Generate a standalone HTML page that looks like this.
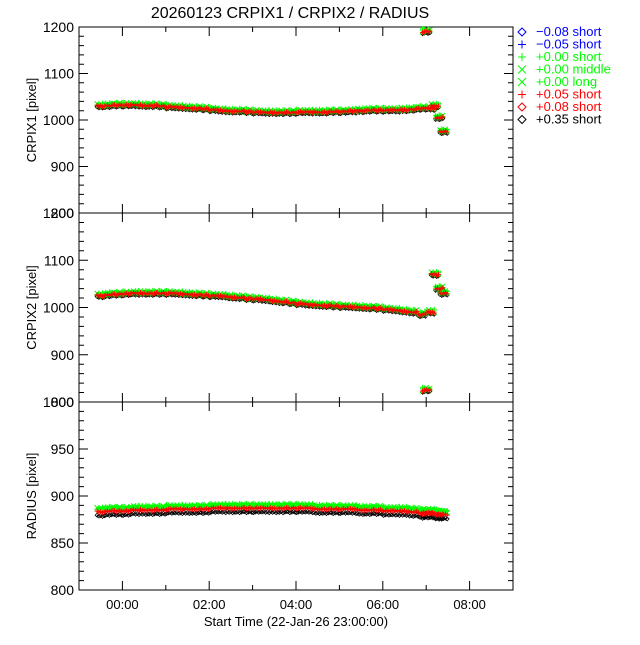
<!DOCTYPE html>
<html><head><meta charset="utf-8"><style>
body{margin:0;background:#fff;width:640px;height:640px;overflow:hidden}
svg text{font-family:"Liberation Sans",sans-serif;fill:#000}
</style></head><body>
<svg id="chart" width="640" height="640" xmlns="http://www.w3.org/2000/svg">
<text x="290" y="18" font-size="16" text-anchor="middle">20260123 CRPIX1 / CRPIX2 / RADIUS</text>
<g id="g"></g>
</svg>
<script>
const times=[-0.5,-0.3,-0.1,0.1,0.3,0.5,0.7,0.9,1.1,1.3,1.5,1.7,1.9,2.1,2.3,2.5,2.7,2.9,3.1,3.3,3.5,3.7,3.9,4.1,4.3,4.5,4.7,4.9,5.1,5.3,5.5,5.7,5.9,6.1,6.3,6.5,6.7,6.9,7.0,7.1,7.2,7.3,7.4];
const crpix1=[1030,1031,1032,1032,1032,1031,1031,1030,1028,1027,1026,1025,1024,1022,1020,1019,1019,1018,1017,1016,1016,1016,1016,1017,1017,1017,1017,1018,1018,1019,1020,1021,1021,1021,1021,1022,1023,1025,1190,1025,1030,1005,975];
const crpix2=[1025,1027,1028,1029,1030,1030,1030,1030,1030,1029,1028,1027,1026,1025,1024,1022,1021,1019,1018,1016,1014,1012,1010,1008,1006,1005,1004,1003,1002,1001,1000,999,998,996,994,992,990,985,825,990,1070,1040,1030];
const radius=[885,886,886,886,887,887,887,887,888,888,888,888,888,889,889,889,889,889,889,889,889,889,889,889,889,888,888,888,888,888,887,887,887,886,886,886,885,884,883,884,883,882,882];
const xTickLabels=["00:00","02:00","04:00","06:00","08:00"];
const xTickHours=[0,2,4,6,8];
const legendLabels=["\u22120.08 short","\u22120.05 short","+0.00 short","+0.00 middle","+0.00 long","+0.05 short","+0.08 short","+0.35 short"];
const legendColors=["#00f","#00f","#0f0","#0f0","#0f0","#f00","#f00","#000"];
const legendSyms=["d","+","+","x","x","+","d","d"];

const NS="http://www.w3.org/2000/svg";
const g=document.getElementById('g');
const L=79,R=513,X0=-1,X1=9;
const xs=h=>L+(h-X0)/(X1-X0)*(R-L);
function el(tag,a,p){const e=document.createElementNS(NS,tag);for(const k in a)e.setAttribute(k,a[k]);(p||g).appendChild(e);return e;}
function symD(type,x,y,s){
  if(type==="+")return `M${x-s} ${y}h${2*s}M${x} ${y-s}v${2*s}`;
  if(type==="x")return `M${x-s} ${y-s}l${2*s} ${2*s}M${x-s} ${y+s}l${2*s} ${-2*s}`;
  return `M${x} ${y-s}l${s} ${s}l${-s} ${s}l${-s} ${-s}z`;
}
function sym(p,type,x,y,c,s){return el('path',{d:symD(type,x,y,s),stroke:c,fill:'none'},p);}
const panels=[
 {name:'crpix1',top:27,bot:213,min:800,max:1200,major:100,minor:20,label:'CRPIX1 [pixel]',data:crpix1,off:[2,0,-1],ticks:[800,900,1000,1100,1200]},
 {name:'crpix2',top:213,bot:402,min:800,max:1200,major:100,minor:20,label:'CRPIX2 [pixel]',data:crpix2,off:[2,0,-1],ticks:[800,900,1000,1100,1200]},
 {name:'radius',top:402,bot:590,min:800,max:1000,major:50,minor:10,label:'RADIUS [pixel]',data:radius,off:[1,-2,-5],ticks:[800,850,900,950,1000]}
];
const jit=[-2,1,-1,2,0];
panels.forEach(P=>{
  const pg=el('g',{});
  
  
  const ys=v=>P.bot-(v-P.min)/(P.max-P.min)*(P.bot-P.top);
  el('rect',{x:L,y:P.top,width:R-L,height:P.bot-P.top,fill:'none',stroke:'#000'},pg);
  for(let v=P.min;v<=P.max;v+=P.minor){
    const y=ys(v),len=(v-P.min)%P.major===0?9:5;
    el('path',{d:`M${L} ${y}h${len}M${R} ${y}h${-len}`,stroke:'#000'},pg);
  }
  P.ticks.forEach(v=>{
    const t=el('text',{x:74,y:ys(v)+5,'font-size':14,'text-anchor':'end'},pg);t.textContent=v;
    
    
  });
  for(let h=X0;h<=X1;h++){
    const x=xs(h),len=h%2===0?9:5;
    el('path',{d:`M${x} ${P.bot}v${-len}M${x} ${P.top}v${len}`,stroke:'#000'},pg);
  }
  const yl=el('text',{x:0,y:0,'font-size':13,'text-anchor':'middle',transform:`translate(36 ${(P.top+P.bot)/2}) rotate(-90)`},pg);
  yl.textContent=P.label;
  
  
  const sg=el('g',{},pg);
  
  
  let dg='',dr='',dk='';
  times.forEach((h,i)=>{
    const x=xs(h),v=P.data[i];
    for(let k=0;k<5;k++){
      const xx=x-3.6+k*1.8,j=jit[(i+k)%5];
      dg+=symD('x',xx,ys(v+P.off[0])+j*0.7,2.5)+symD('+',xx,ys(v+P.off[0])-j*0.5-1,2.5);
      dr+=symD('+',xx,ys(v+P.off[1])+j*0.4,2.5);
      dk+=symD('d',xx,ys(v+P.off[2])+j*0.3+1,2);
    }
  });
  el('path',{d:dk,stroke:'#000',fill:'none','stroke-width':0.8},sg);
  el('path',{d:dg,stroke:'#0f0',fill:'none'},sg);
  el('path',{d:dr,stroke:'#f00',fill:'none'},sg);
});
xTickHours.forEach((h,i)=>{
  const t=el('text',{x:xs(h),y:609,'font-size':13,'text-anchor':'middle'});t.textContent=xTickLabels[i];
  
  
});
const xt=el('text',{x:296,y:626,'font-size':13,'text-anchor':'middle'});xt.textContent='Start Time (22-Jan-26 23:00:00)';


legendLabels.forEach((lab,i)=>{
  const lg=el('g',{});
  
  
  const y=36+i*12.5;
  sym(lg,legendSyms[i],522,y-4,legendColors[i],4);
  const t=el('text',{x:536,y:y,'font-size':13,fill:legendColors[i]},lg);t.textContent=lab;
  t.style.fill=legendColors[i];
});
</script>
</body></html>
